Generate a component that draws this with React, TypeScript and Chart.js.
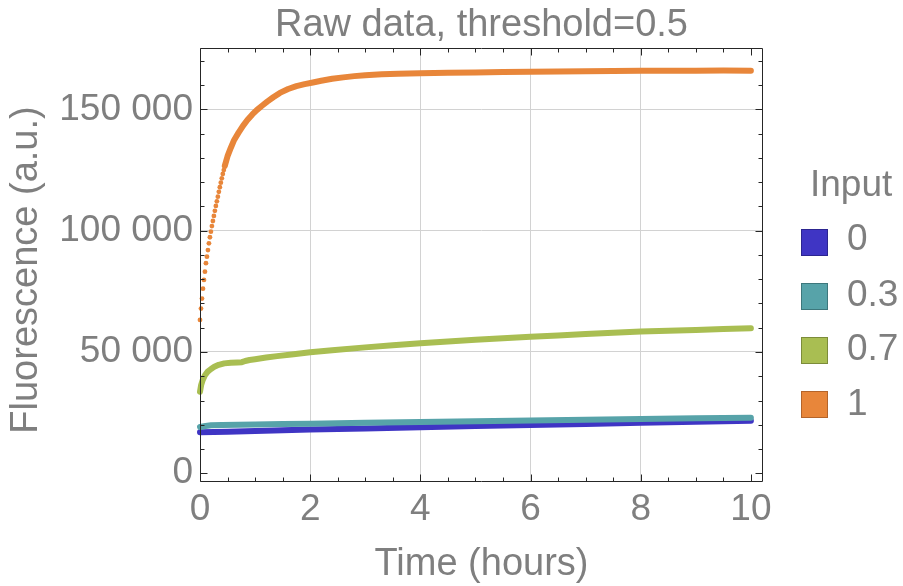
import { useEffect, useRef } from "react";
import { Chart, registerables } from "chart.js";

Chart.register(...registerables);

// ---- text ----
const TITLE = "Raw data, threshold=0.5";
const X_TITLE = "Time (hours)";
const Y_TITLE = "Fluorescence (a.u.)";
const LEGEND_TITLE = "Input";

// ---- series (time in hours, fluorescence in a.u.) ----
const inputLabels = ["0", "0.3", "0.7", "1"];
const seriesColors = ["#3f35c4", "#57a3a9", "#a9be52", "#e8863a"];
const swatchBorders = ["#2c2590", "#3d777c", "#7c8c3a", "#b4642a"];

const time0 = [0, 0.5, 1, 2, 3, 4, 5, 6, 7, 8, 9, 10];
const fluor0 = [16900, 17150, 17450, 18000, 18500, 19000, 19450, 19900, 20350, 20800, 21250, 21650];

const time03 = [0, 0.1, 0.2, 0.4, 0.7, 1, 1.5, 2, 3, 4, 5, 6, 7, 8, 9, 10];
const fluor03 = [19100, 19500, 19800, 19950, 20050, 20150, 20300, 20450, 20800, 21150, 21500, 21800, 22100, 22350, 22650, 22900];

const time07 = [0, 0.02, 0.05, 0.09, 0.14, 0.2, 0.26, 0.34, 0.44, 0.56, 0.68, 0.76, 0.82, 0.9, 1.0, 1.2, 1.4, 1.7, 2.0, 2.4, 3.0, 3.5, 4.0, 4.5, 5.0, 5.5, 6.0, 6.5, 7.0, 7.5, 8.0, 8.5, 9.0, 9.5, 10.0];
const fluor07 = [33600, 36300, 38500, 40400, 41900, 43000, 43900, 44700, 45300, 45600, 45700, 45800, 46300, 46700, 47000, 47700, 48300, 49100, 49900, 50700, 51900, 52800, 53600, 54300, 55000, 55700, 56300, 56800, 57400, 57900, 58400, 58800, 59100, 59500, 59800];

const time1 = [
  0, 0.018, 0.036, 0.054, 0.072, 0.09, 0.108, 0.126, 0.144, 0.162, 0.18, 0.198, 0.216,
  0.234, 0.252, 0.27, 0.288, 0.306, 0.324, 0.342, 0.36, 0.378, 0.396, 0.414, 0.432, 0.45,
  0.5, 0.56, 0.62, 0.7, 0.78, 0.86, 0.95, 1.03, 1.12, 1.22, 1.33, 1.45, 1.6, 1.75, 1.9,
  2.05, 2.2, 2.4, 2.6, 2.8, 3.0, 3.3, 3.6, 4.0, 4.5, 5.0, 5.5, 6.0, 6.5, 7.0, 7.5, 8.0,
  8.5, 9.0, 9.5, 10.0,
];
const fluor1 = [
  63200, 67900, 72000, 76100, 79700, 83100, 86600, 89300, 92000, 94800, 97300, 99600, 101900,
  104000, 106100, 108200, 110200, 112100, 114000, 116000, 117900, 119800, 121600, 123400, 125000, 126700,
  130700, 134200, 137400, 140400, 143200, 145600, 147900, 149700, 151400, 153200, 155000, 156800, 158400, 159600, 160400,
  161100, 161800, 162600, 163200, 163700, 164100, 164500, 164700, 164900, 165100, 165200, 165400, 165500, 165600, 165700, 165800, 165900,
  165900, 165900, 166000, 165900,
];
// the first readings of the fastest curve are far apart, so they show as single dots
const ORANGE_DOT_COUNT = 26;

const seriesTimes = [time0, time03, time07, time1];
const seriesValues = [fluor0, fluor03, fluor07, fluor1];

// ---- axes ----
const X_MIN = 0;
const X_MAX = 10.22;
const X_STEP = 0.5;
const xMajorTicks = [0, 2, 4, 6, 8, 10];
const xGridTicks = [2, 4, 6, 8];

const Y_MIN = -3590;
const Y_MAX = 175300;
const Y_STEP = 10000;
const yMajorTicks = [0, 50000, 100000, 150000];
const yGridTicks = [50000, 100000, 150000];

const TEXT_GRAY = "#7f7f7f";
const FRAME_COLOR = "#262626";
const GRID_COLOR = "#d2d2d2";
const FONT = "'Liberation Sans', Arial, Helvetica, sans-serif";

const isIn = (list: number[], v: number) => list.some((t) => Math.abs(t - v) < 1e-6);
const groupDigits = (v: number) => String(Math.round(v)).replace(/\B(?=(\d{3})+(?!\d))/g, " ");

// evenly stepped tick list between the axis limits
const stepTicks = (min: number, max: number, step: number) => {
  const out: { value: number }[] = [];
  for (let k = Math.ceil(min / step); k * step <= max + 1e-9; k++) out.push({ value: +(k * step).toFixed(6) });
  return out;
};

// frame round the plot with inward tick marks on all four sides, plus the rotated y title
const frameTicksPlugin = {
  id: "frameTicks",
  afterDraw(chart: any) {
    const { ctx, chartArea: a, scales } = chart;
    const xs = scales.x;
    const ys = scales.y;
    const left = Math.round(a.left) + 0.5;
    const right = Math.round(a.right) - 0.5;
    const top = Math.round(a.top) + 0.5;
    const bottom = Math.round(a.bottom) - 0.5;
    ctx.save();
    ctx.strokeStyle = FRAME_COLOR;
    ctx.lineWidth = 1;
    ctx.beginPath();
    ctx.rect(left, top, right - left, bottom - top);
    for (const t of xs.ticks) {
      const px = Math.round(xs.getPixelForValue(t.value)) + 0.5;
      const len = isIn(xMajorTicks, t.value) ? 7 : 4;
      ctx.moveTo(px, bottom);
      ctx.lineTo(px, bottom - len);
      ctx.moveTo(px, top);
      ctx.lineTo(px, top + len);
    }
    for (const t of ys.ticks) {
      const py = Math.round(ys.getPixelForValue(t.value)) + 0.5;
      const len = isIn(yMajorTicks, t.value) ? 7 : 4;
      ctx.moveTo(left, py);
      ctx.lineTo(left + len, py);
      ctx.moveTo(right, py);
      ctx.lineTo(right - len, py);
    }
    ctx.stroke();

    // y axis title, centred a little below the middle of the frame
    ctx.translate(26.5, (a.top + a.bottom) / 2 + 5);
    ctx.rotate(-Math.PI / 2);
    ctx.fillStyle = TEXT_GRAY;
    ctx.font = `38px ${FONT}`;
    ctx.textAlign = "center";
    ctx.textBaseline = "middle";
    ctx.fillText(Y_TITLE, 0, 0);
    ctx.restore();
  },
};

export default function App() {
  const canvasRef = useRef<HTMLCanvasElement | null>(null);

  useEffect(() => {
    const canvas = canvasRef.current;
    if (!canvas) return;

    const datasets = seriesValues.map((vals, i) => {
      const isFast = i === 3;
      return {
        label: inputLabels[i],
        data: vals.map((y, k) => ({ x: seriesTimes[i][k], y })),
        showLine: true,
        borderColor: seriesColors[i],
        backgroundColor: seriesColors[i],
        borderWidth: 6,
        borderCapStyle: "round" as const,
        borderJoinStyle: "round" as const,
        tension: 0,
        clip: false as const,
        order: 4 - i,
        pointRadius: isFast ? (c: any) => (c.dataIndex < ORANGE_DOT_COUNT ? 2.4 : 0) : 0,
        pointBorderWidth: 0,
        pointBackgroundColor: seriesColors[i],
        pointHoverRadius: 0,
        segment: isFast
          ? { borderColor: (c: any) => (c.p1DataIndex < ORANGE_DOT_COUNT ? "rgba(0,0,0,0)" : seriesColors[i]) }
          : undefined,
      };
    });

    const chart = new Chart(canvas, {
      type: "scatter",
      data: { datasets },
      plugins: [frameTicksPlugin],
      options: {
        animation: false,
        responsive: true,
        maintainAspectRatio: false,
        events: [],
        layout: { padding: { left: 0, right: 140, top: 0, bottom: 0 } },
        plugins: {
          legend: { display: false },
          tooltip: { enabled: false },
          title: {
            display: true,
            text: TITLE,
            fullSize: false,
            color: TEXT_GRAY,
            font: { family: FONT, size: 38, weight: "normal", lineHeight: 1.15 },
            padding: { top: 3.6, bottom: 0.7 },
          },
        },
        scales: {
          x: {
            type: "linear",
            min: X_MIN,
            max: X_MAX,
            afterBuildTicks: (s: any) => {
              s.ticks = stepTicks(X_MIN, X_MAX, X_STEP);
            },
            afterFit: (s: any) => {
              s.height = 104;
            },
            border: { display: false },
            grid: {
              drawTicks: false,
              color: (c: any) => (c.tick && isIn(xGridTicks, c.tick.value) ? GRID_COLOR : "rgba(0,0,0,0)"),
              lineWidth: 1,
            },
            ticks: {
              autoSkip: false,
              maxRotation: 0,
              padding: 6,
              color: TEXT_GRAY,
              font: { family: FONT, size: 37, lineHeight: 1.2 },
              callback: (v: any) => (isIn(xMajorTicks, Number(v)) ? String(Number(v)) : ""),
            },
            title: {
              display: true,
              text: X_TITLE,
              color: TEXT_GRAY,
              font: { family: FONT, size: 38, lineHeight: 1.1 },
              padding: { top: 0, bottom: 0.3 },
            },
          },
          y: {
            type: "linear",
            min: Y_MIN,
            max: Y_MAX,
            afterBuildTicks: (s: any) => {
              s.ticks = stepTicks(Y_MIN, Y_MAX, Y_STEP);
            },
            afterFit: (s: any) => {
              s.width = 200;
            },
            border: { display: false },
            grid: {
              drawTicks: false,
              color: (c: any) => (c.tick && isIn(yGridTicks, c.tick.value) ? GRID_COLOR : "rgba(0,0,0,0)"),
              lineWidth: 1,
            },
            ticks: {
              autoSkip: false,
              padding: 7,
              color: TEXT_GRAY,
              font: { family: FONT, size: 37, lineHeight: 1.2 },
              callback: (v: any) => (isIn(yMajorTicks, Number(v)) ? groupDigits(Number(v)) : ""),
            },
            title: { display: false },
          },
        },
      },
    });

    return () => chart.destroy();
  }, []);

  const legendTops = [219, 275, 329, 384];
  const swatchTops = [229, 283, 337, 391];

  return (
    <div
      style={{
        position: "fixed",
        left: 0,
        top: 0,
        width: 903,
        height: 586,
        background: "#ffffff",
        overflow: "hidden",
        fontFamily: FONT,
      }}
    >
      <canvas ref={canvasRef} style={{ position: "absolute", left: 0, top: 0 }} />
      <div
        style={{
          position: "absolute",
          left: 810,
          top: 165,
          fontSize: 37,
          lineHeight: "37px",
          color: TEXT_GRAY,
          whiteSpace: "nowrap",
        }}
      >
        {LEGEND_TITLE}
      </div>
      {inputLabels.map((lab, i) => (
        <div key={lab}>
          <div
            style={{
              position: "absolute",
              left: 801,
              top: swatchTops[i],
              width: 25,
              height: 25,
              background: seriesColors[i],
              border: `1px solid ${swatchBorders[i]}`,
            }}
          />
          <div
            style={{
              position: "absolute",
              left: 847,
              top: legendTops[i],
              fontSize: 37,
              lineHeight: "37px",
              color: TEXT_GRAY,
              whiteSpace: "nowrap",
            }}
          >
            {lab}
          </div>
        </div>
      ))}
    </div>
  );
}
